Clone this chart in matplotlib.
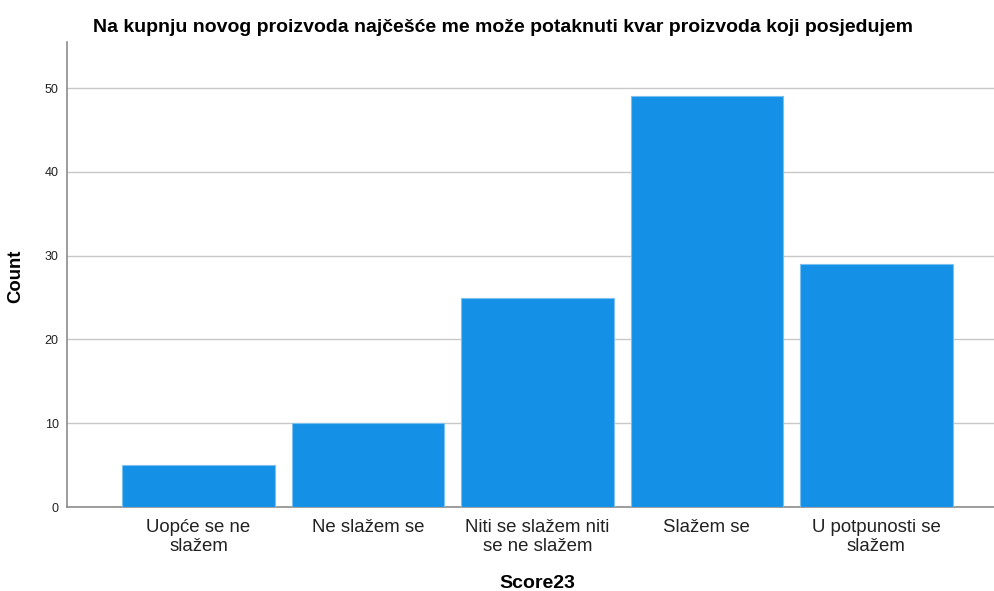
import numpy as np
import matplotlib.pyplot as plt

plt.rcParams['font.family'] = ['Liberation Sans', 'DejaVu Sans']

# Data
categories = ['Uopće se ne\nslažem', 'Ne slažem se', 'Niti se slažem niti\nse ne slažem',
              'Slažem se', 'U potpunosti se\nslažem']
counts = [5, 10, 25, 49, 29]
yticks = [0, 10, 20, 30, 40, 50]

BAR_COLOR = '#1491e6'
EDGE_COLOR = '#7cc0f0'

fig = plt.figure(figsize=(9.95, 5.91), dpi=100)
ax = fig.add_axes([67 / 995, 84 / 591, 1 - 67 / 995, (507 - 42) / 591])

x = np.arange(len(categories))
ax.bar(x, counts, width=0.9, color=BAR_COLOR, edgecolor=EDGE_COLOR, linewidth=0.8, zorder=3)

ax.set_xlim(-0.776, 4.70)
ax.set_ylim(0, 55.5)
ax.set_yticks(yticks)
ax.set_xticks(x)
ax.set_xticklabels(categories, fontsize=13.4, color='#222222', linespacing=1.12)
ax.tick_params(axis='y', length=0, labelsize=9, pad=6, colors='#222222')
ax.tick_params(axis='x', length=0, pad=9)

ax.grid(axis='y', color='#c8c8c8', linewidth=1.0, zorder=0)
for side in ['top', 'right']:
    ax.spines[side].set_visible(False)
ax.spines['left'].set_color('#8c8c8c')
ax.spines['bottom'].set_color('#8c8c8c')
ax.spines['left'].set_linewidth(1.2)
ax.spines['bottom'].set_linewidth(1.2)

fig.text(503 / 995, 1 - 27 / 591, 'Na kupnju novog proizvoda najčešće me može potaknuti kvar proizvoda koji posjedujem',
         ha='center', va='center', fontsize=14, fontweight='bold')
fig.text(16 / 995, 1 - 276 / 591, 'Count', rotation=90, ha='center', va='center',
         fontsize=13.3, fontweight='bold')
fig.text(537 / 995, 1 - 583 / 591, 'Score23', ha='center', va='center',
         fontsize=14, fontweight='bold')

plt.savefig('out.png', dpi=100)
